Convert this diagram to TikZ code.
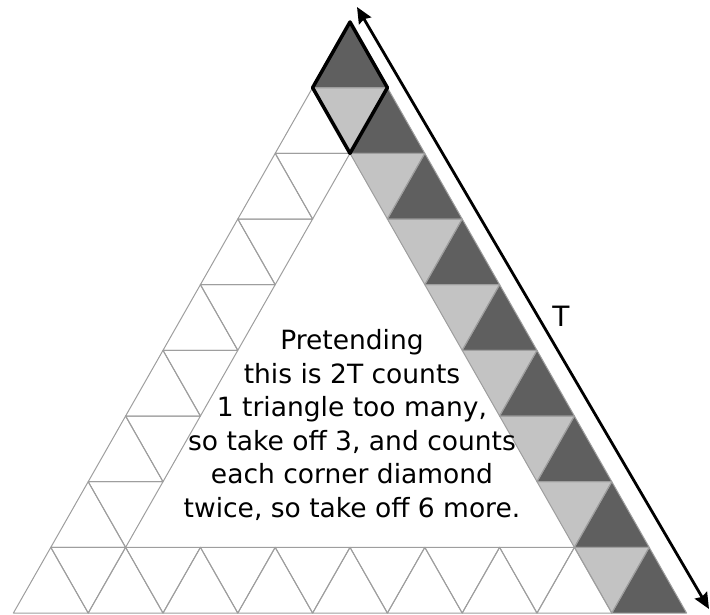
\documentclass[tikz,border=0pt]{standalone}
\usepackage{fontspec}
\setmainfont{DejaVu Sans}
\usetikzlibrary{arrows.meta}
\definecolor{triangledark}{HTML}{5F5F5F}
\definecolor{trianglelight}{HTML}{C3C3C3}
\definecolor{gridgray}{HTML}{9E9E9E}

\begin{document}
\begin{tikzpicture}[
        x=1pt, y=-1pt,
        cell/.style={draw=gridgray, line width=1pt, line join=round},
        darkcell/.style={fill=triangledark},
        lightcell/.style={fill=trianglelight},
        corner/.style={draw=black, line width=3.5pt, line join=round},
        side/.style={{Stealth[length=16pt,width=14pt,inset=2pt]}-{Stealth[length=16pt,width=14pt,inset=2pt]}, line width=2.8pt, black},
        note/.style={align=center, font=\fontsize{26.5}{33.5}\selectfont, text=black}
    ]
        \useasboundingbox (0,0) rectangle (710,615);

        % grid points: level k, position j
        \foreach \k in {0,...,9}{
            \foreach \j in {0,...,\k}{
                \coordinate (p\k-\j) at ({350-37.4*\k+74.8*\j},{22+65.67*\k});
            }
        }

        % shaded strip down the right side
        \foreach \r in {1,...,9}{
            \pgfmathtruncatemacro{\q}{\r-1}
            \pgfmathtruncatemacro{\s}{\r-2}
            \fill[darkcell] (p\q-\q) -- (p\r-\q) -- (p\r-\r) -- cycle;
            \ifnum\r>1
                \fill[lightcell] (p\q-\s) -- (p\q-\q) -- (p\r-\q) -- cycle;
            \fi
        }

        % the ring of triangles
        \foreach \r in {1,...,8}{
            \pgfmathtruncatemacro{\q}{\r-1}
            \pgfmathtruncatemacro{\s}{\r-2}
            \draw[cell] (p\q-0) -- (p\r-0) -- (p\r-1) -- cycle;
            \draw[cell] (p\q-\q) -- (p\r-\q) -- (p\r-\r) -- cycle;
            \ifnum\r>1
                \draw[cell] (p\q-0) -- (p\q-1) -- (p\r-1) -- cycle;
                \draw[cell] (p\q-\s) -- (p\q-\q) -- (p\r-\q) -- cycle;
            \fi
        }
        \foreach \j in {0,...,8}{
            \pgfmathtruncatemacro{\n}{\j+1}
            \draw[cell] (p8-\j) -- (p9-\j) -- (p9-\n) -- cycle;
        }
        \foreach \j in {0,...,7}{
            \pgfmathtruncatemacro{\n}{\j+1}
            \draw[cell] (p8-\j) -- (p8-\n) -- (p9-\n) -- cycle;
        }

        % corner diamond
        \draw[corner] (p0-0) -- (p1-0) -- (p2-1) -- (p1-1) -- cycle;

        % side length
        \coordinate (sidetop) at (357,7);
        \coordinate (sidebottom) at (709,609);
        \draw[side] (sidetop) -- (sidebottom);
        \node[font=\fontsize{28}{28}\selectfont] (tlabel) at (561,316) {T};

        \node[note] (explain) at (352,425) {Pretending\\this is 2T counts\\1 triangle too many,\\so take off 3, and counts\\each corner diamond\\twice, so take off 6 more.};
    \end{tikzpicture}
\end{document}
